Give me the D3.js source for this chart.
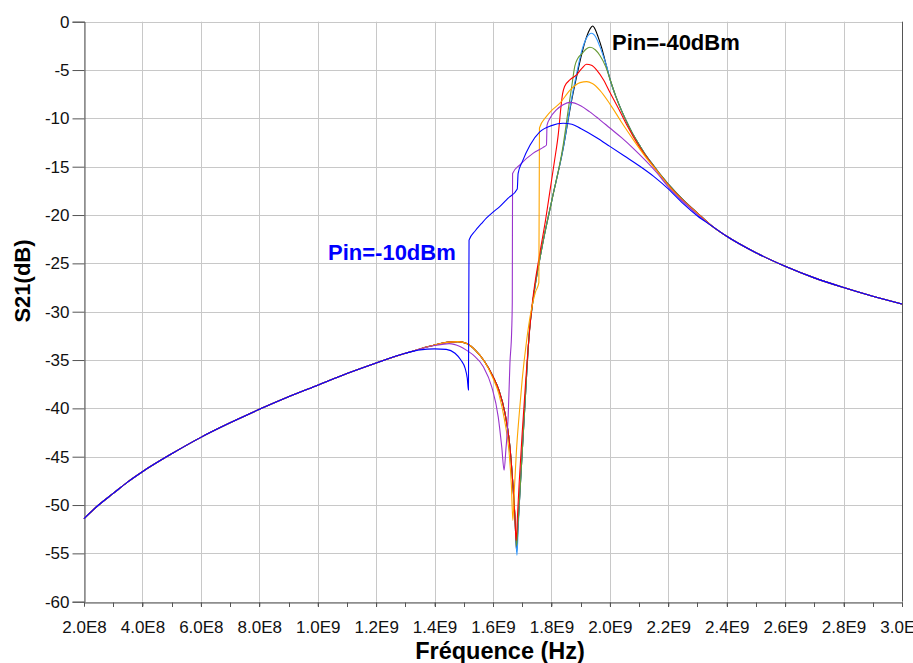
<!DOCTYPE html>
<html><head><meta charset="utf-8">
<script src="https://cdn.jsdelivr.net/npm/d3@7"></script>
<style>
html,body{margin:0;padding:0;background:#fff;}
svg{display:block;font-family:"Liberation Sans",Arial,sans-serif;}
</style></head>
<body><svg id="c" width="913" height="663"></svg>
<script>
// ---- data (frequency in GHz, S21 in dB) ----
const xTickValues = [0.2,0.4,0.6,0.8,1.0,1.2,1.4,1.6,1.8,2.0,2.2,2.4,2.6,2.8,3.0];
const xTickLabels = ["2.0E8","4.0E8","6.0E8","8.0E8","1.0E9","1.2E9","1.4E9","1.6E9","1.8E9","2.0E9","2.2E9","2.4E9","2.6E9","2.8E9","3.0E9"];
const yTickValues = [0,-5,-10,-15,-20,-25,-30,-35,-40,-45,-50,-55,-60];

const commonLow = [[0.2,-51.4],[0.25,-50.0],[0.3,-48.8],[0.35,-47.6],[0.4,-46.55],[0.5,-44.7],[0.6,-43.0],[0.7,-41.5],[0.8,-40.1],[0.9,-38.8],[1.0,-37.6],[1.1,-36.4],[1.2,-35.3],[1.3,-34.3]];
const mainPreDip = [[1.35,-33.85],[1.4,-33.45],[1.45,-33.15],[1.48,-33.1],[1.51,-33.3],[1.54,-34.0],[1.57,-35.1],[1.6,-36.7],[1.62,-38.1],[1.641,-40.5],[1.658,-44.0],[1.667,-47.4],[1.675,-51.2]];
const commonTail = [[2.35,-21.15],[2.4,-22.2],[2.5,-23.9],[2.6,-25.3],[2.7,-26.5],[2.8,-27.5],[2.9,-28.4],[3.0,-29.2]];
const bundleFall = [[2.02,-7.7],[2.04,-9.2],[2.06,-10.5],[2.08,-11.7],[2.1,-12.7],[2.125,-13.9],[2.15,-14.9],[2.175,-15.9],[2.2,-16.8],[2.25,-18.4],[2.3,-19.8]];

const blackMid = [[1.681,-54.8],[1.685,-52.5],[1.692,-48.8],[1.701,-44.0],[1.709,-39.8],[1.717,-35.5],[1.725,-31.9],[1.737,-28.8],[1.766,-23.6],[1.802,-18.4],[1.839,-13.3],[1.87,-8.0],[1.886,-5.7],[1.904,-3.3],[1.92,-1.6],[1.932,-0.75],[1.941,-0.45],[1.95,-0.8],[1.96,-1.6],[1.972,-2.7],[1.985,-4.2],[2.0,-5.9]];
const lightBlueMid = [[1.682,-55.2],[1.686,-52.5],[1.692,-48.8],[1.701,-44.0],[1.709,-39.8],[1.717,-35.5],[1.725,-31.9],[1.737,-28.8],[1.766,-23.6],[1.802,-18.4],[1.839,-13.3],[1.87,-7.8],[1.886,-5.4],[1.904,-3.0],[1.92,-1.7],[1.937,-1.2],[1.952,-1.6],[1.965,-2.5],[1.978,-3.6],[1.99,-4.7],[2.0,-5.9]];
const greenMid = [[1.681,-54.2],[1.685,-52.3],[1.692,-48.8],[1.701,-44.0],[1.709,-39.8],[1.717,-35.5],[1.725,-31.9],[1.737,-28.8],[1.766,-23.6],[1.802,-18.4],[1.839,-13.0],[1.86,-8.6],[1.87,-6.6],[1.88,-4.6],[1.89,-3.8],[1.905,-3.3],[1.918,-2.85],[1.932,-2.65],[1.95,-2.9],[1.966,-3.5],[1.985,-4.6],[2.0,-5.9]];
const redMid = [[1.679,-53.7],[1.684,-51.0],[1.69,-47.5],[1.7,-42.5],[1.71,-38.0],[1.72,-33.8],[1.735,-29.0],[1.76,-24.0],[1.78,-20.5],[1.795,-17.5],[1.81,-14.5],[1.824,-11.5],[1.832,-9.0],[1.838,-7.5],[1.845,-6.7],[1.864,-6.0],[1.886,-5.5],[1.905,-4.8],[1.92,-4.4],[1.937,-4.5],[1.955,-5.0],[1.978,-6.0],[2.0,-7.3],[2.03,-9.0],[2.06,-10.8],[2.1,-12.9],[2.15,-15.0],[2.2,-16.9],[2.25,-18.45],[2.3,-19.82]];
const orangePre = [[1.35,-33.85],[1.4,-33.45],[1.45,-33.15],[1.48,-33.1],[1.51,-33.3],[1.54,-34.0],[1.57,-35.1],[1.6,-36.9],[1.62,-38.5],[1.64,-41.3],[1.655,-44.5],[1.663,-48.0]];
const orangeMid = [[1.668,-51.6],[1.673,-48.5],[1.68,-44.5],[1.69,-40.5],[1.7,-37.0],[1.715,-33.0],[1.73,-30.0],[1.745,-28.0],[1.757,-27.0],[1.759,-11.0],[1.783,-9.8],[1.8,-9.2],[1.83,-8.4],[1.863,-7.1],[1.898,-6.3],[1.921,-6.2],[1.94,-6.4],[1.966,-7.1],[2.0,-8.5],[2.04,-10.4],[2.08,-12.2],[2.12,-13.9],[2.16,-15.4],[2.2,-16.95],[2.25,-18.5],[2.3,-19.85]];
const purpleMid = [[1.35,-33.85],[1.4,-33.5],[1.45,-33.3],[1.487,-33.6],[1.51,-34.0],[1.533,-34.5],[1.567,-35.7],[1.596,-37.8],[1.618,-40.9],[1.63,-44.0],[1.638,-46.4],[1.644,-44.3],[1.652,-40.8],[1.658,-35.3],[1.664,-31.9],[1.666,-29.0],[1.667,-15.7],[1.692,-14.8],[1.738,-13.6],[1.772,-13.0],[1.783,-12.75],[1.785,-10.7],[1.795,-10.0],[1.818,-9.1],[1.84,-8.6],[1.865,-8.35],[1.9,-8.7],[1.93,-9.3],[1.96,-10.0],[2.0,-11.0],[2.04,-12.0],[2.08,-13.1],[2.12,-14.3],[2.16,-15.6],[2.2,-17.1],[2.25,-18.6],[2.3,-19.95]];
const blueMid = [[1.35,-33.95],[1.4,-33.85],[1.44,-33.9],[1.47,-34.3],[1.49,-35.0],[1.505,-35.9],[1.512,-36.9],[1.516,-38.1],[1.518,-22.6],[1.54,-21.6],[1.56,-20.9],[1.578,-20.3],[1.6,-19.7],[1.624,-19.1],[1.65,-18.3],[1.683,-17.3],[1.686,-15.7],[1.7,-14.5],[1.727,-12.75],[1.76,-11.4],[1.8,-10.75],[1.84,-10.5],[1.87,-10.6],[1.9,-11.05],[1.955,-12.0],[2.0,-12.9],[2.05,-13.9],[2.1,-14.9],[2.15,-16.0],[2.2,-17.3],[2.25,-18.8],[2.3,-20.1]];

const seriesNames = ["Pin=-40dBm","Pin=-35dBm","Pin=-30dBm","Pin=-25dBm","Pin=-20dBm","Pin=-15dBm","Pin=-10dBm"];
const seriesColors = ["#000000","#3399ff","#669933","#ff0000","#ffa500","#9933cc","#0000ff"];
const seriesData = [
  commonLow.concat(mainPreDip, blackMid, bundleFall, commonTail),
  commonLow.concat(mainPreDip, lightBlueMid, bundleFall, commonTail),
  commonLow.concat(mainPreDip, greenMid, bundleFall, commonTail),
  commonLow.concat(mainPreDip, redMid, commonTail),
  commonLow.concat(orangePre, orangeMid, commonTail),
  commonLow.concat(purpleMid, commonTail),
  commonLow.concat(blueMid, commonTail)
];

// ---- drawing ----
const svg = d3.select("#c");
const x = d3.scaleLinear().domain([0.2,3.0]).range([84,902]);
const y = d3.scaleLinear().domain([0,-60]).range([21.7,601.7]);

// grid
const grid = svg.append("g");
grid.selectAll("line.v").data(xTickValues).join("line")
  .attr("x1",d=>Math.round(x(d))+0.5).attr("x2",d=>Math.round(x(d))+0.5)
  .attr("y1",y(0)).attr("y2",y(-60)).attr("stroke",(d,i)=>i===xTickValues.length-1?"#555":"#c8c8c8").attr("stroke-width",1);
grid.selectAll("line.h").data(yTickValues).join("line")
  .attr("y1",d=>Math.round(y(d))+0.5).attr("y2",d=>Math.round(y(d))+0.5)
  .attr("x1",x(0.2)).attr("x2",x(3.0)).attr("stroke","#c8c8c8").attr("stroke-width",1);

// minor x ticks
const minorTicks = d3.range(3,31).map(d=>d/10);
svg.append("g").selectAll("line").data(minorTicks).join("line")
  .attr("x1",d=>Math.round(x(d))+0.5).attr("x2",d=>Math.round(x(d))+0.5)
  .attr("y1",Math.round(y(-60))+0.5).attr("y2",Math.round(y(-60))+5)
  .attr("stroke","#555").attr("stroke-width",1);

// axes
const xAxis = d3.axisBottom(x).tickValues(xTickValues).tickFormat((d,i)=>xTickLabels[i]).tickSize(4).tickPadding(14);
const gx = svg.append("g").attr("transform",`translate(0,${Math.round(y(-60))+0.5})`).call(xAxis);
gx.select(".domain").attr("stroke","#555");
gx.selectAll(".tick line").attr("stroke","#555");
gx.selectAll(".tick text").attr("font-size",17).attr("fill","#111").attr("font-family","'Liberation Sans',Arial,sans-serif");

const yAxis = d3.axisLeft(y).tickValues(yTickValues).tickFormat(d=>d).tickSize(12).tickPadding(3);
const gy = svg.append("g").attr("transform",`translate(${Math.round(x(0.2))+0.5},0)`).call(yAxis);
gy.select(".domain").attr("stroke","#555");
gy.selectAll(".tick line").attr("stroke","#555");
gy.selectAll(".tick text").attr("font-size",17).attr("fill","#111").attr("font-family","'Liberation Sans',Arial,sans-serif");

// curves
const line = d3.line().x(d=>x(d[0])).y(d=>y(d[1])).curve(d3.curveMonotoneX);
svg.append("g").selectAll("path").data(seriesData).join("path")
  .attr("d",line).attr("fill","none")
  .attr("stroke",(d,i)=>seriesColors[i]).attr("stroke-width",1.1);

// annotations
svg.append("text").attr("x",612).attr("y",50).attr("font-size",22).attr("font-weight","bold")
  .attr("fill","#000").text(seriesNames[0]);
svg.append("text").attr("x",328).attr("y",260).attr("font-size",22).attr("font-weight","bold")
  .attr("fill","#0000ff").text(seriesNames[6]);

// axis titles
svg.append("text").attr("x",500).attr("y",659).attr("text-anchor","middle")
  .attr("font-size",23.5).attr("font-weight","bold").attr("fill","#000").text("Fréquence (Hz)");
svg.append("text").attr("transform","translate(30,281) rotate(-90)").attr("text-anchor","middle")
  .attr("font-size",22).attr("font-weight","bold").attr("fill","#000").text("S21(dB)");
</script></body></html>
